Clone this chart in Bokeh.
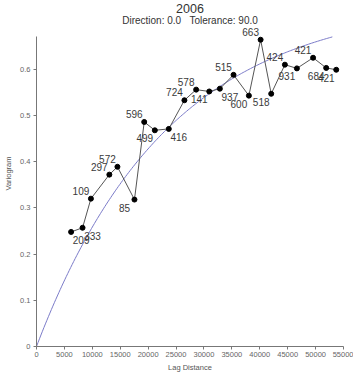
import numpy as np
from bokeh.plotting import figure
from bokeh.models import ColumnDataSource, FixedTicker, Label
from bokeh.core.properties import value
from bokeh.embed import file_html
from bokeh.resources import INLINE

# Experimental semivariogram: lag centres, semivariance and pair counts
lag_distance = [6200, 8250, 9750, 13050, 14500, 17550, 19300, 21200, 23700,
                26500, 28600, 30950, 32850, 35300, 38050, 40150, 42050,
                44500, 46650, 49550, 51900, 53700]
semivariance = [0.248, 0.257, 0.320, 0.372, 0.389, 0.318, 0.486, 0.468, 0.471,
                0.533, 0.556, 0.552, 0.558, 0.588, 0.543, 0.664, 0.547,
                0.610, 0.602, 0.625, 0.603, 0.599]
pair_count = [209, 333, 109, 297, 572, 85, 596, 499, 416,
              724, 578, 141, 937, 515, 600, 663, 518,
              424, 931, 421, 684, 421]

# Fitted exponential model
model_sill = 0.75
model_range = 71000
model_max_lag = 53000

x_ticks = list(range(0, 55001, 5000))
y_ticks = [0, 0.1, 0.2, 0.3, 0.4, 0.5, 0.6]
y_axis_top = 0.672

title_text = "2006"
subtitle_text = "Direction: 0.0\u00a0\u00a0\u00a0Tolerance: 90.0"

# where each count label sits relative to its point
label_side = ["lr", "lr", "ul", "ul", "ul", "ll", "ul", "ll", "lr",
              "ul", "ul", "ll", "lr", "ul", "ll", "ul", "ll",
              "ul", "ll", "ul", "ll", "ll"]
side_dx = {"ul": -10, "ll": -10, "lr": 10, "ur": 10}
side_dy = {"ul": -8, "ll": 8, "lr": 8, "ur": -8}

h = np.linspace(0, model_max_lag, 200)
gamma = model_sill * (1 - np.exp(-3 * h / model_range))

FONT = "Liberation Sans"
W, H = 353, 378
LEFT, RIGHT, TOP, BOTTOM = 36, 10, 0, 32
frame_h = H - TOP - BOTTOM
PX_PER_UNIT = 462.0  # vertical pixels per unit of semivariance

p = figure(width=W, height=H, output_backend="svg", toolbar_location=None,
           x_range=(0, 55000), y_range=(0, frame_h / PX_PER_UNIT),
           min_border_left=LEFT, min_border_right=RIGHT,
           min_border_top=TOP, min_border_bottom=BOTTOM)
p.outline_line_color = None
p.grid.visible = False
p.background_fill_color = "white"
p.border_fill_color = "white"

p.line(h, gamma, line_color="#7b7bc8", line_width=1)

src = ColumnDataSource(dict(
    x=lag_distance, y=semivariance,
    lbl=[str(c) for c in pair_count],
    dx=[side_dx[s] for s in label_side],
    dy=[side_dy[s] for s in label_side],
))
p.line("x", "y", source=src, line_color="#555555", line_width=1)
p.scatter("x", "y", source=src, size=5, color="black")
p.text("x", "y", text="lbl", source=src, x_offset="dx", y_offset="dy",
       text_align="center", text_baseline="middle",
       text_font_size="10px", text_color="#3a3a3a",
       text_font=value(FONT))

for ax in (p.xaxis[0], p.yaxis[0]):
    ax.axis_line_color = "#777777"
    ax.major_tick_line_color = "#777777"
    ax.major_tick_out = 3
    ax.major_tick_in = 0
    ax.minor_tick_line_color = None
    ax.major_label_text_font = FONT
    ax.major_label_text_font_size = "7.5px"
    ax.major_label_text_color = "#666666"
    ax.axis_label_text_font = FONT
    ax.axis_label_text_font_size = "7.5px"
    ax.axis_label_text_font_style = "normal"
    ax.axis_label_text_color = "#555555"

p.xaxis.ticker = FixedTicker(ticks=x_ticks)
p.yaxis.ticker = FixedTicker(ticks=y_ticks)
p.yaxis.bounds = (0, y_axis_top)
p.yaxis.major_label_overrides = {0: "0"}
p.xaxis.major_label_standoff = 2
p.yaxis.major_label_standoff = 3
p.xaxis.axis_label = "Lag Distance"
p.yaxis.axis_label = "Variogram"
p.xaxis.axis_label_standoff = 3
p.yaxis.axis_label_standoff = 4

# heading, positioned in screen pixels from the frame's lower-left corner
cx = 189.5 - LEFT
p.add_layout(Label(x=cx, y=frame_h - 7.5, x_units="screen", y_units="screen",
                   text=title_text, text_align="center", text_baseline="middle",
                   text_font=FONT, text_font_size="12.5px", text_color="#333333"))
p.add_layout(Label(x=cx, y=frame_h - 19.5, x_units="screen", y_units="screen",
                   text=subtitle_text, text_align="center", text_baseline="middle",
                   text_font=FONT, text_font_size="10px", text_color="#333333"))

open("out.html", "w").write(file_html(p, INLINE))
